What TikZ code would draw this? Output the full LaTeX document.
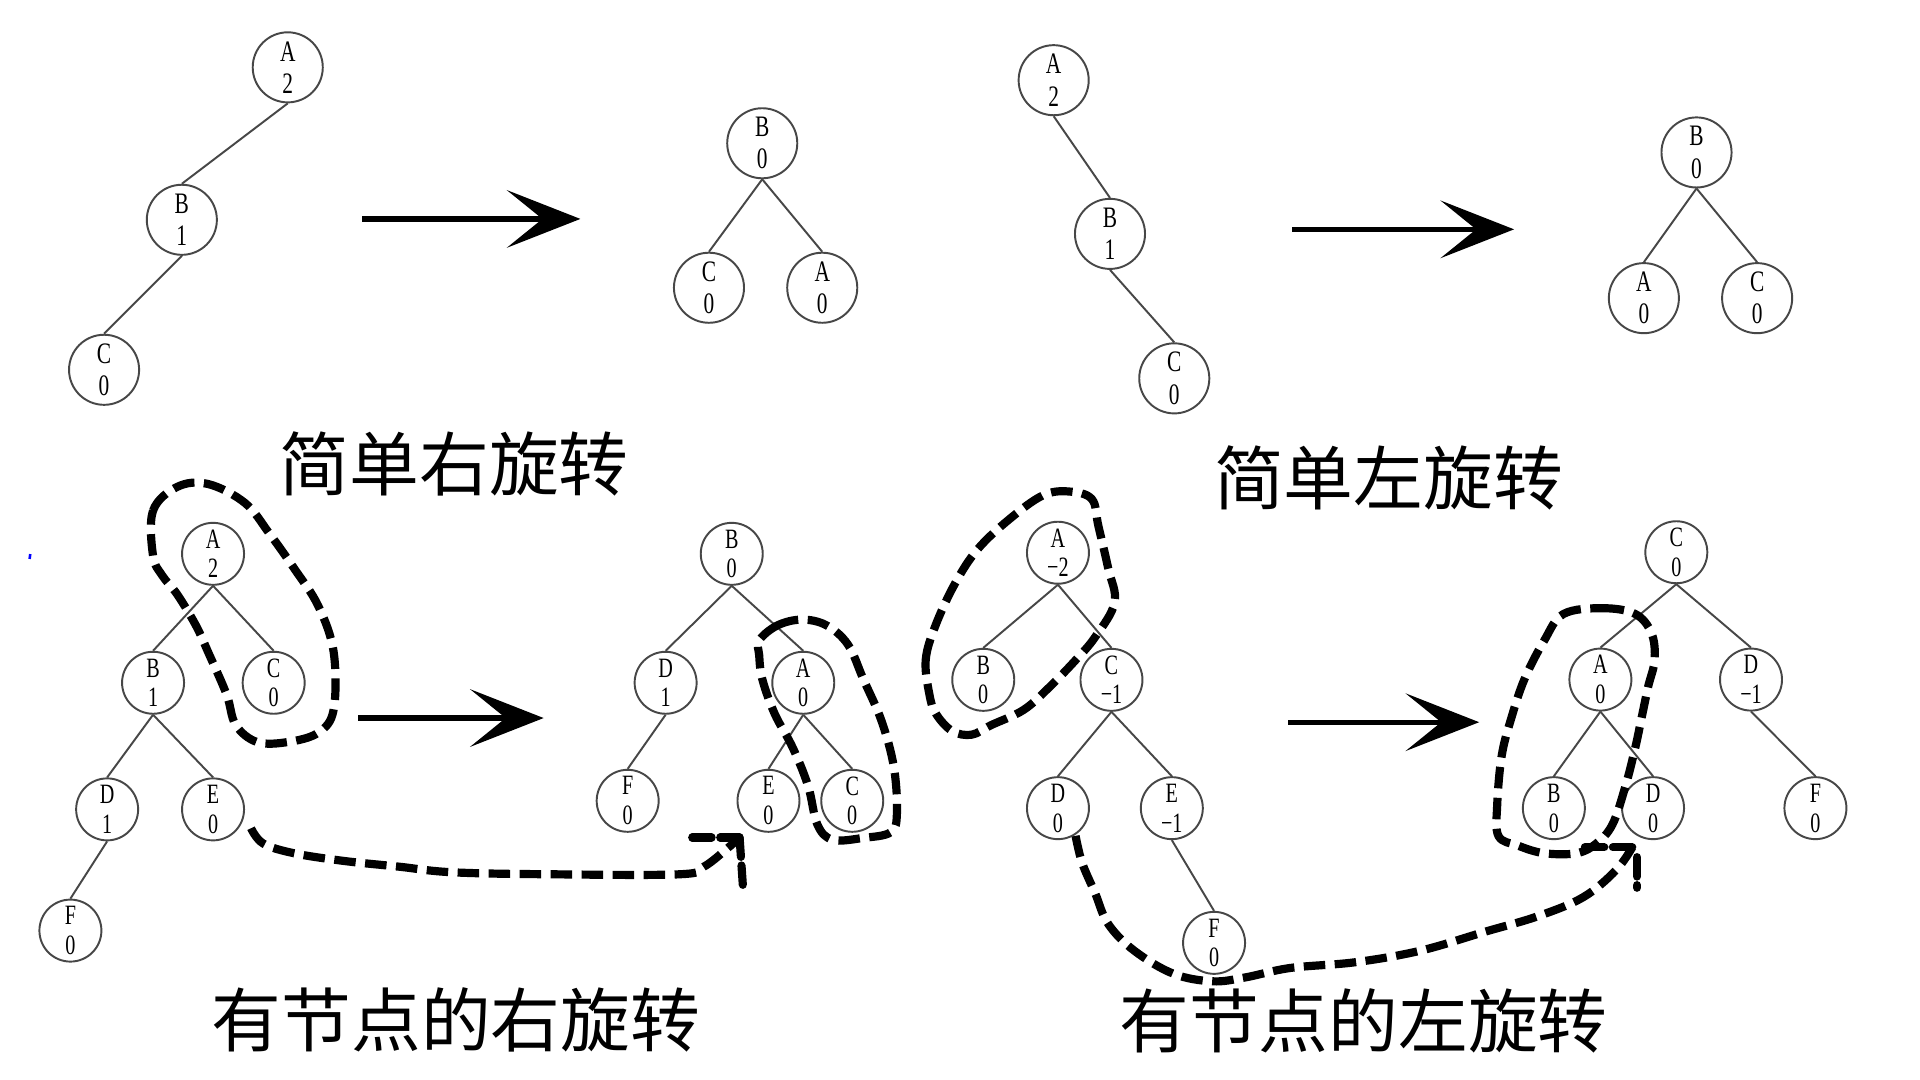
\documentclass[tikz,border=0pt]{standalone}
\usepackage{fontspec}
\setmainfont{Liberation Serif}
\newfontfamily\cjk{Noto Sans CJK SC}
\usetikzlibrary{arrows.meta}
\newcommand{\nt}[2]{\scalebox{0.72}[1]{#1}\\\scalebox{0.72}[1]{#2}}
\tikzset{
  tnode/.style={circle, draw=black!72, line width=0.45pt, minimum size=5.72mm, inner sep=0pt, align=center, font=\fontsize{6.9}{7.5}\selectfont},
  bnode/.style={tnode, minimum size=5.06mm, font=\fontsize{6.5}{6.9}\selectfont},
  edge/.style={draw=black!72, line width=0.45pt},
  bigarrow/.style={line width=1.25pt, -{Stealth[length=6mm, width=4.7mm, inset=2.9mm]}},
  dsh/.style={line width=1.9pt, dash pattern=on 5pt off 2.2pt, line cap=butt, line join=round},
  barb/.style={line width=1.9pt, dash pattern=on 4.5pt off 2pt, line cap=round},
  title/.style={font=\cjk\fontsize{16.2}{19}\selectfont, inner sep=0pt}
}
\begin{document}
\begin{tikzpicture}[x=0.01cm,y=-0.01cm]
\useasboundingbox (0,0) rectangle (1568,882);
\fill[white] (0,0) rectangle (1568,882);
% ---------- panel 1: simple right rotation
\node[tnode] (p1a) at (235,55) {\nt{A}{2}};
\node[tnode] (p1b) at (148.5,179.5) {\nt{B}{1}};
\node[tnode] (p1c) at (85,302) {\nt{C}{0}};
\draw[edge] (p1a.south) -- (p1b.north);
\draw[edge] (p1b.south) -- (p1c.north);
\coordinate (r1s) at (296,178.8); \coordinate (r1e) at (474,178.8);
\draw[bigarrow] (r1s) -- (r1e);
\node[tnode] (q1b) at (622.5,117) {\nt{B}{0}};
\node[tnode] (q1c) at (579,235) {\nt{C}{0}};
\node[tnode] (q1a) at (671.5,235) {\nt{A}{0}};
\draw[edge] (q1b.south) -- (q1c.north);
\draw[edge] (q1b.south) -- (q1a.north);
\node[title] (t1) at (371,379) {简单右旋转};
% ---------- panel 2: simple left rotation
\node[tnode] (p2a) at (860.5,65.5) {\nt{A}{2}};
\node[tnode] (p2b) at (906.5,191) {\nt{B}{1}};
\node[tnode] (p2c) at (959,309) {\nt{C}{0}};
\draw[edge] (p2a.south) -- (p2b.north);
\draw[edge] (p2b.south) -- (p2c.north);
\coordinate (r2s) at (1055.5,187.3); \coordinate (r2e) at (1236.5,187.3);
\draw[bigarrow] (r2s) -- (r2e);
\node[tnode] (q2b) at (1385.5,124.5) {\nt{B}{0}};
\node[tnode] (q2a) at (1342.5,243.5) {\nt{A}{0}};
\node[tnode] (q2c) at (1435,243.5) {\nt{C}{0}};
\draw[edge] (q2b.south) -- (q2a.north);
\draw[edge] (q2b.south) -- (q2c.north);
\node[title] (t2) at (1134,390.5) {简单左旋转};
% ---------- panel 3: right rotation with node
\node[bnode] (p3a) at (174,452.3) {\nt{A}{2}};
\node[bnode] (p3b) at (125,557.6) {\nt{B}{1}};
\node[bnode] (p3c) at (223.5,557.6) {\nt{C}{0}};
\node[bnode] (p3d) at (87.5,661) {\nt{D}{1}};
\node[bnode] (p3e) at (174,661) {\nt{E}{0}};
\node[bnode] (p3f) at (57.5,760) {\nt{F}{0}};
\draw[edge] (p3a.south) -- (p3b.north);
\draw[edge] (p3a.south) -- (p3c.north);
\draw[edge] (p3b.south) -- (p3d.north);
\draw[edge] (p3b.south) -- (p3e.north);
\draw[edge] (p3d.south) -- (p3f.north);
\coordinate (r3s) at (292.5,586.4); \coordinate (r3e) at (444,586.4);
\draw[bigarrow] (r3s) -- (r3e);
\node[bnode] (q3b) at (597.6,452.3) {\nt{B}{0}};
\node[bnode] (q3d) at (543.6,557.6) {\nt{D}{1}};
\node[bnode] (q3a) at (656,557.6) {\nt{A}{0}};
\node[bnode] (q3f) at (512.6,654) {\nt{F}{0}};
\node[bnode] (q3e) at (627.6,654) {\nt{E}{0}};
\node[bnode] (q3c) at (696,654) {\nt{C}{0}};
\draw[edge] (q3b.south) -- (q3d.north);
\draw[edge] (q3b.south) -- (q3a.north);
\draw[edge] (q3d.south) -- (q3f.north);
\draw[edge] (q3a.south) -- (q3e.north);
\draw[edge] (q3a.south) -- (q3c.north);
% dashed loops
\draw[dsh] plot[smooth cycle, tension=0.6] coordinates {(125,454) (125,417) (145,397.5) (170,395.3) (200,410.7) (220,435.7) (240,463.9) (260,495) (272.5,532.6) (272.5,579.5) (260,598.3) (235,606) (210,606) (192.5,592) (185,567) (170,532.6) (160,510.8) (145,485.8) (132.5,470)};
\draw[dsh] plot[smooth cycle, tension=0.6] coordinates {(620,523) (635,510.7) (655,506) (675,510.7) (692.5,526.4) (705,554.5) (720,589) (730,626.5) (732.5,664) (727.5,679.6) (705,684.3) (680,685.8) (667.5,673.3) (660,642) (647.5,610.8) (632.5,582.6) (622.5,554.5) (620,535)};
% dashed arrow
\coordinate (d3s) at (205,676.4);
\coordinate (d3t) at (604,684);
\draw[dsh] plot[smooth, tension=0.6] coordinates {(d3s) (215,688.9) (240,696.8) (280,703) (325,707.7) (370,712.4) (450,714) (555,714) (575,707.7) (595,692) (d3t)};
\draw[barb] (d3t) -- (562,684);
\draw[barb] (d3t) -- (607,728);
\node[title] (t3) at (372.5,832.7) {有节点的右旋转};
% ---------- panel 4: left rotation with node
\node[bnode] (p4a) at (864,451.4) {\nt{A}{−2}};
\node[bnode] (p4b) at (803,555.2) {\nt{B}{0}};
\node[bnode] (p4c) at (907.7,555.2) {\nt{C}{−1}};
\node[bnode] (p4d) at (864,660) {\nt{D}{0}};
\node[bnode] (p4e) at (957,660) {\nt{E}{−1}};
\node[bnode] (p4f) at (991.5,770) {\nt{F}{0}};
\draw[edge] (p4a.south) -- (p4b.north);
\draw[edge] (p4a.south) -- (p4c.north);
\draw[edge] (p4c.south) -- (p4d.north);
\draw[edge] (p4c.south) -- (p4e.north);
\draw[edge] (p4e.south) -- (p4f.north);
\coordinate (r4s) at (1052,589.8); \coordinate (r4e) at (1208,589.8);
\draw[bigarrow] (r4s) -- (r4e);
\node[bnode] (q4c) at (1369,451) {\nt{C}{0}};
\node[bnode] (q4a) at (1307,555) {\nt{A}{0}};
\node[bnode] (q4x) at (1430,555) {\nt{D}{−1}};
\node[bnode] (q4b) at (1269,660) {\nt{B}{0}};
\node[bnode] (q4d) at (1350,660) {\nt{D}{0}};
\node[bnode] (q4f) at (1482.6,660) {\nt{F}{0}};
\draw[edge] (q4c.south) -- (q4a.north);
\draw[edge] (q4c.south) -- (q4x.north);
\draw[edge] (q4a.south) -- (q4b.north);
\draw[edge] (q4a.south) -- (q4d.north);
\draw[edge] (q4x.south) -- (q4f.north);
% dashed loops
\draw[dsh] plot[smooth cycle, tension=0.6] coordinates {(759,567) (756,538.9) (764,510.8) (780,476.4) (798.7,448.2) (825.3,423.2) (851.9,404.5) (873.1,401.4) (891.7,407.6) (897,429.5) (905,464) (910.3,492) (894.4,520.2) (878.5,539) (857.3,560.9) (836,579.7) (809.4,592.2) (793.5,600) (777.6,597) (764.3,582.8)};
\draw[dsh] plot[smooth cycle, tension=0.6] coordinates {(1276.9,501.4) (1308.8,496.7) (1335.4,501.4) (1348.7,517) (1351.3,538.9) (1346,560.8) (1340.7,585.9) (1335.4,610.9) (1327.4,642.2) (1316.8,673.4) (1303.5,689) (1287.5,696.8) (1261,696.8) (1239.7,690.6) (1223.8,682.8) (1222.7,657.7) (1226.4,617.1) (1234.4,585.9) (1245,554.6) (1261,523.3)};
% dashed arrow
\coordinate (d4s) at (878.4,682.6);
\coordinate (d4t) at (1333,692);
\draw[dsh] plot[smooth, tension=0.6] coordinates {(d4s) (883.7,704.5) (894.4,729.5) (905,754.5) (926.3,776.4) (958.2,795.2) (990,801.4) (1016.6,798.3) (1053.8,790.5) (1107,785.8) (1160,776.4) (1213.2,760.8) (1255.8,748.3) (1293,732.7) (1319.6,710.8) (d4t)};
\draw[barb] (d4t) -- (1292,692);
\draw[barb] (1337,700) -- (1337,725);
\node[title] (t4) at (1113.6,834) {有节点的左旋转};
% stray blue mark
\draw[blue, line width=0.6pt] (24.7,452.5) -- (24.2,456.5);
\end{tikzpicture}
\end{document}
